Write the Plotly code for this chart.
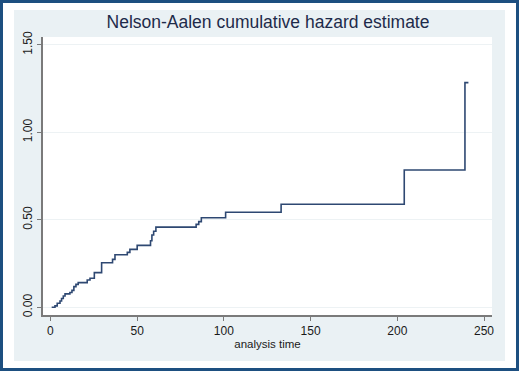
import plotly.graph_objects as go

# Step times (analysis time) and Nelson-Aalen cumulative hazard after each step
times = [0.7, 2.6, 3.9, 5.5, 6.4, 7.4, 8.4, 11.2, 12.4, 13.5, 14.7, 16.0, 21.2, 22.8,
         25.3, 29.5, 35.8, 37.2, 44.3, 45.8, 50.0, 57.7, 58.5, 59.5, 60.8, 84.0, 85.5,
         87.0, 101.0, 133.0, 204.0, 239.0, 241.0]
hazard = [0.000, 0.008, 0.023, 0.036, 0.050, 0.065, 0.077, 0.085, 0.097, 0.118, 0.131,
          0.141, 0.156, 0.166, 0.198, 0.255, 0.274, 0.300, 0.314, 0.331, 0.354, 0.380,
          0.413, 0.435, 0.458, 0.474, 0.490, 0.512, 0.543, 0.589, 0.785, 1.284, 1.284]

x_ticks = [0, 50, 100, 150, 200, 250]
y_ticks = [0.0, 0.5, 1.0, 1.5]

W, H = 519, 371
L, R, T, B = 43, 492, 37, 315

def px(x):
    return (x - L) / (R - L)

def py(y):
    return (B - y) / (B - T)

fig = go.Figure()
fig.add_trace(go.Scatter(
    x=times, y=hazard, mode="lines", line_shape="hv",
    line=dict(color="#2e4872", width=1.6), hoverinfo="skip", showlegend=False))

shapes = [
    # light outer panel
    dict(type="rect", xref="paper", yref="paper", x0=px(14), x1=px(505), y0=py(361), y1=py(10),
         fillcolor="#eaf1f4", line=dict(width=0), layer="below"),
    # white plot region
    dict(type="rect", xref="paper", yref="paper", x0=0, x1=1, y0=0, y1=1,
         fillcolor="white", line=dict(width=0), layer="below"),
    # dark blue frame
    dict(type="rect", xref="paper", yref="paper", x0=px(1.5), x1=px(517.5), y0=py(369.5), y1=py(1.5),
         fillcolor="rgba(0,0,0,0)", line=dict(color="#1d4f80", width=3), layer="above"),
]

fig.update_layout(
    width=W, height=H,
    margin=dict(l=L, r=W - R, t=T, b=H - B),
    paper_bgcolor="white", plot_bgcolor="white",
    font=dict(family="Liberation Sans, Arial, sans-serif", color="#1a1a1a"),
    title=dict(text="Nelson-Aalen cumulative hazard estimate", x=268 / W, xanchor="center",
               y=1 - 22 / H, yanchor="middle",
               font=dict(size=17.5, color="#1e2b4a")),
    shapes=shapes,
    xaxis=dict(range=[-4.3, 254.6], tickvals=x_ticks, ticktext=[str(v) for v in x_ticks],
               showgrid=False, zeroline=False, showline=True, linecolor="#7a7a7a", linewidth=1.5,
               ticks="outside", ticklen=4, tickcolor="#7a7a7a", tickfont=dict(size=12, color="#1a1a1a"),
               title=dict(text="analysis time", font=dict(size=11.5, color="#1a1a1a"), standoff=2)),
    yaxis=dict(range=[-0.044, 1.545], tickvals=y_ticks, tickformat=".2f",
               showgrid=True, gridcolor="#edf2f4", gridwidth=1, zeroline=False,
               showline=True, linecolor="#7a7a7a", linewidth=1.5,
               ticks="outside", ticklen=4, tickcolor="#7a7a7a", tickangle=-90,
               tickfont=dict(size=12, color="#1a1a1a")),
)

fig.write_html("out.html", config={"displayModeBar": False},
               post_script="document.body.style.margin='0';document.body.style.overflow='hidden';")
